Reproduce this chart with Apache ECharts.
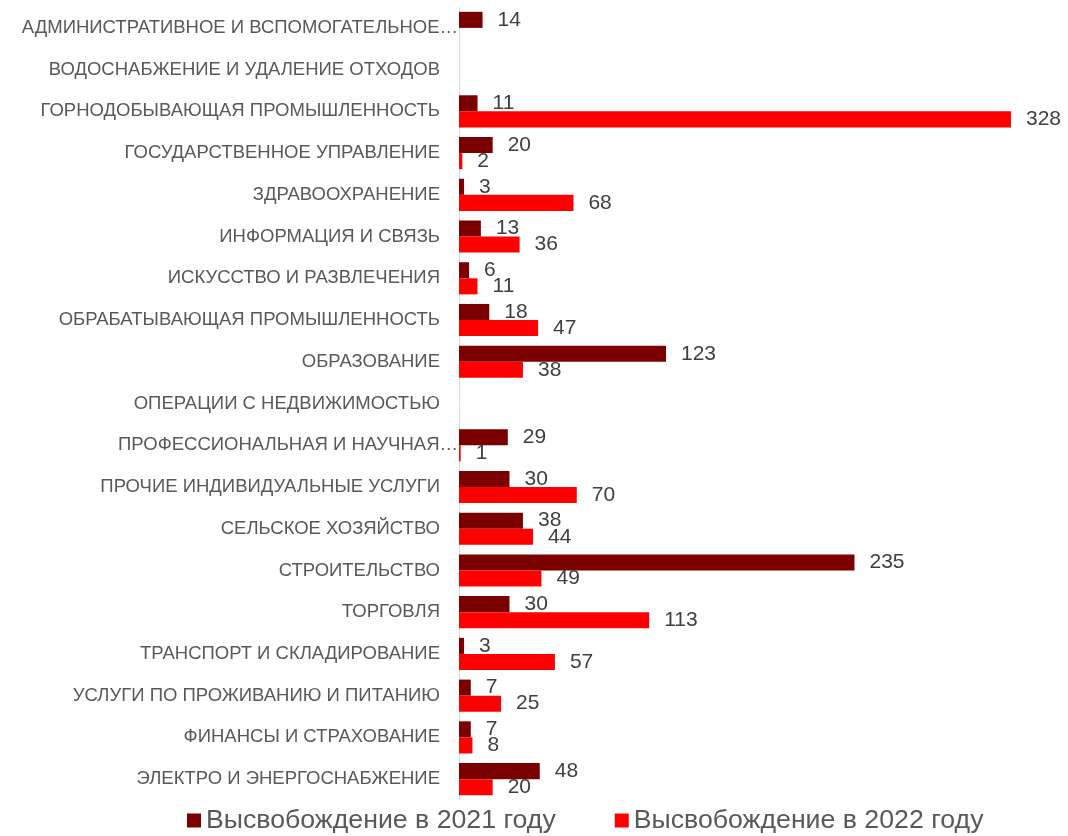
<!DOCTYPE html>
<html>
<head>
<meta charset="utf-8">
<script src="https://cdn.jsdelivr.net/npm/echarts@6/dist/echarts.min.js"></script>
<style>
  html, body { margin: 0; padding: 0; background: #fff; }
  #chart { width: 1068px; height: 836px; }
</style>
</head>
<body>
<div id="chart"></div>
<script>
// отрасли (сверху вниз)
var categories = [
  'АДМИНИСТРАТИВНОЕ И ВСПОМОГАТЕЛЬНОЕ…',
  'ВОДОСНАБЖЕНИЕ И УДАЛЕНИЕ ОТХОДОВ',
  'ГОРНОДОБЫВАЮЩАЯ ПРОМЫШЛЕННОСТЬ',
  'ГОСУДАРСТВЕННОЕ УПРАВЛЕНИЕ',
  'ЗДРАВООХРАНЕНИЕ',
  'ИНФОРМАЦИЯ И СВЯЗЬ',
  'ИСКУССТВО И РАЗВЛЕЧЕНИЯ',
  'ОБРАБАТЫВАЮЩАЯ ПРОМЫШЛЕННОСТЬ',
  'ОБРАЗОВАНИЕ',
  'ОПЕРАЦИИ С НЕДВИЖИМОСТЬЮ',
  'ПРОФЕССИОНАЛЬНАЯ И НАУЧНАЯ…',
  'ПРОЧИЕ ИНДИВИДУАЛЬНЫЕ УСЛУГИ',
  'СЕЛЬСКОЕ ХОЗЯЙСТВО',
  'СТРОИТЕЛЬСТВО',
  'ТОРГОВЛЯ',
  'ТРАНСПОРТ И СКЛАДИРОВАНИЕ',
  'УСЛУГИ ПО ПРОЖИВАНИЮ И ПИТАНИЮ',
  'ФИНАНСЫ И СТРАХОВАНИЕ',
  'ЭЛЕКТРО И ЭНЕРГОСНАБЖЕНИЕ'
];
var values2021 = [14, null, 11, 20, 3, 13, 6, 18, 123, null, 29, 30, 38, 235, 30, 3, 7, 7, 48];
var values2022 = [null, null, 328, 2, 68, 36, 11, 47, 38, null, 1, 70, 44, 49, 113, 57, 25, 8, 20];
var seriesNames = ['Высвобождение в 2021 году', 'Высвобождение в 2022 году'];
var colors = ['#7b0000', '#ff0000'];

var chart = echarts.init(document.getElementById('chart'));

var barLabel = {
  show: true,
  position: 'right',
  distance: 15,
  fontSize: 21,
  fontFamily: 'Liberation Sans',
  color: '#404040'
};

var option = {
  animation: false,
  color: colors,
  grid: { left: 459, right: 20, top: 7, bottom: 36 },
  legend: {
    bottom: -3,
    left: 182,
    icon: 'rect',
    itemWidth: 14,
    itemHeight: 14,
    itemGap: 59,
    textStyle: { fontSize: 26.7, fontFamily: 'Liberation Sans', color: '#595959' },
    data: seriesNames
  },
  xAxis: {
    type: 'value',
    min: 0,
    max: 350,
    show: false
  },
  yAxis: {
    type: 'category',
    inverse: true,
    data: categories,
    axisLine: { show: true, lineStyle: { color: '#d9d9d9', width: 1 } },
    axisTick: { show: false },
    axisLabel: {
      margin: 1,
      fontSize: 18.5,
      fontFamily: 'Liberation Sans',
      color: '#595959',
      formatter: function (v) {
        // обрезанные подписи прижаты к оси, остальные с отступом
        return v.indexOf('…') >= 0 ? '{t|' + v + '}' : '{n|' + v + '}';
      },
      rich: {
        t: { fontSize: 18.5, fontFamily: 'Liberation Sans', color: '#595959' },
        n: { fontSize: 18.5, fontFamily: 'Liberation Sans', color: '#595959', padding: [0, 18, 0, 0] }
      }
    }
  },
  series: [
    {
      name: seriesNames[0],
      type: 'bar',
      data: values2021,
      barGap: '0%',
      barCategoryGap: '23%',
      label: barLabel
    },
    {
      name: seriesNames[1],
      type: 'bar',
      data: values2022,
      barGap: '0%',
      barCategoryGap: '23%',
      label: barLabel
    }
  ]
};

chart.setOption(option);
window.addEventListener('resize', function () { chart.resize(); });
</script>
</body>
</html>
